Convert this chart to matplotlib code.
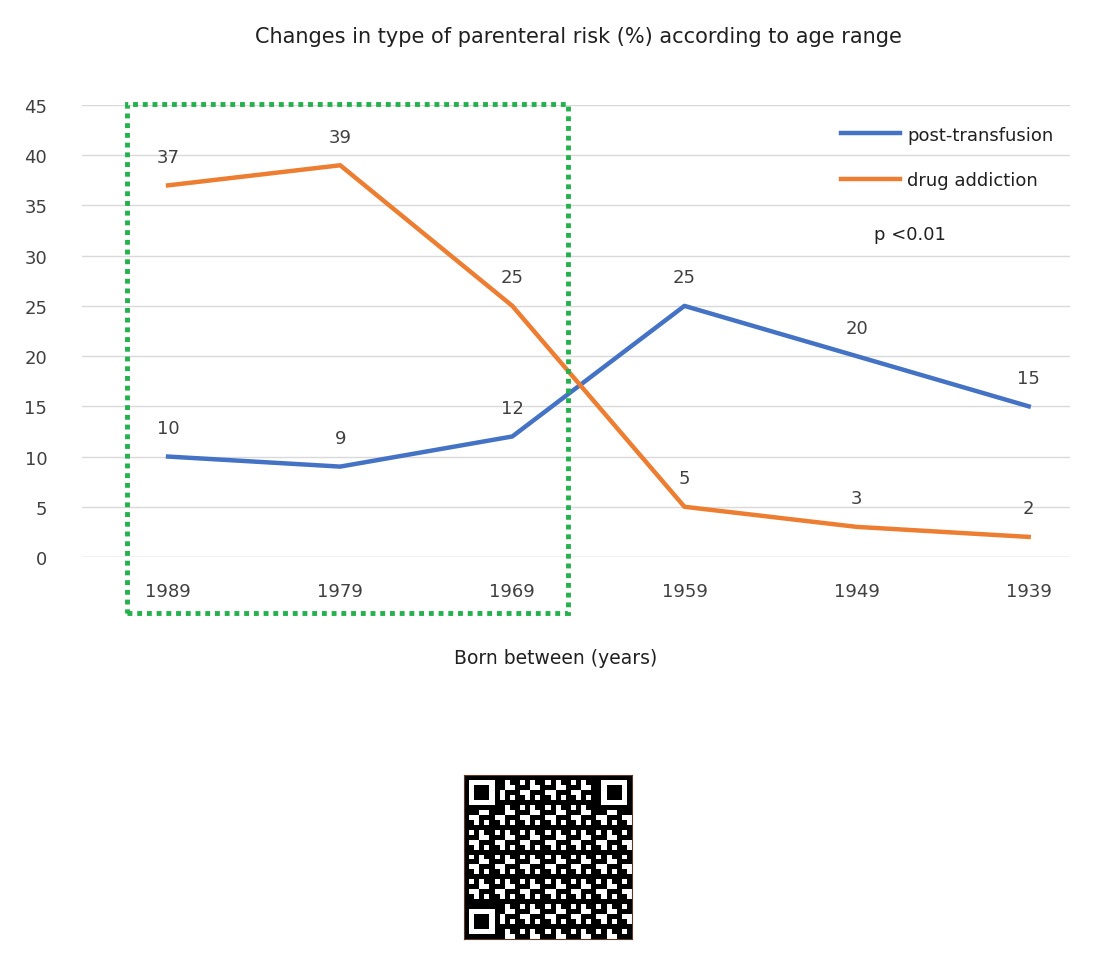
import matplotlib
matplotlib.use("Agg")
import matplotlib.pyplot as plt
from matplotlib.patches import Rectangle
import numpy as np

categories = ["1989", "1979", "1969", "1959", "1949", "1939"]
post_transfusion = [10, 9, 12, 25, 20, 15]
drug_addiction = [37, 39, 25, 5, 3, 2]
yticks = list(range(0, 50, 5))

W, H = 1098, 970
fig = plt.figure(figsize=(W/100, H/100), dpi=100)
ax = fig.add_axes([82/W, 412/H, 988/W, 452/H])
x = np.arange(len(categories))
blue, orange = "#4472C4", "#ED7D31"
ax.plot(x, post_transfusion, color=blue, lw=3.2, label="post-transfusion")
ax.plot(x, drug_addiction, color=orange, lw=3.2, label="drug addiction")
for xi, v in zip(x, post_transfusion):
    ax.annotate(str(v), (xi, v), xytext=(0, 17), textcoords="offset points",
                ha="center", fontsize=13, color="#404040")
for xi, v in zip(x, drug_addiction):
    ax.annotate(str(v), (xi, v), xytext=(0, 17), textcoords="offset points",
                ha="center", fontsize=13, color="#404040")
ax.set_xlim(-0.5, 5.24)
ax.set_ylim(0, 45)
ax.set_yticks(yticks)
ax.set_xticks(x)
ax.set_xticklabels(categories)
ax.grid(axis="y", color="#d9d9d9", lw=1)
ax.axhline(0, color="#d9d9d9", lw=1)
ax.set_axisbelow(True)
for s in ax.spines.values():
    s.set_visible(False)
ax.tick_params(length=0, labelsize=13, labelcolor="#404040")
ax.tick_params(axis="x", pad=18)
ax.tick_params(axis="y", pad=25)
ax.legend(loc="upper right", bbox_to_anchor=(1.0, 0.99), frameon=False,
          fontsize=13, labelcolor="#202020", handlelength=3.3, labelspacing=1.5,
          handletextpad=0.4)
fig.text(910/W, 1-235/H, "p <0.01", fontsize=13, color="#202020", ha="center", va="center")
fig.text(578/W, 1-37/H, "Changes in type of parenteral risk (%) according to age range",
         fontsize=15, color="#202020", ha="center", va="center")
fig.text(556/W, 1-658/H, "Born between (years)", fontsize=13.5, color="#202020",
         ha="center", va="center")
fig.patches.append(Rectangle((127/W, 1-614/H), 441/W, 509/H, transform=fig.transFigure,
                             fill=False, ec="#22B14C", lw=3.5, ls=(0, (1, 1))))

# QR code decoration (deterministic pattern)
n = 33
qr = np.zeros((n, n), int)
for i in range(n):
    for j in range(n):
        qr[i, j] = ((i * 7 + j * 13 + (i * j) % 5 + (i ^ j)) % 2 == 0)
def finder(r, c):
    qr[r:r+7, c:c+7] = 1
    qr[r+1:r+6, c+1:c+6] = 0
    qr[r+2:r+5, c+2:c+5] = 1
finder(0, 0); finder(0, n-7); finder(n-7, 0)
qax = fig.add_axes([464/W, 1-940/H, 168/W, 164/H])
qax.imshow(1-qr, cmap="gray", interpolation="nearest", aspect="auto")
qax.set_xticks([]); qax.set_yticks([])
for s in qax.spines.values():
    s.set_color("#5a3a2a")
fig.savefig("out.png", dpi=100, facecolor="white")
